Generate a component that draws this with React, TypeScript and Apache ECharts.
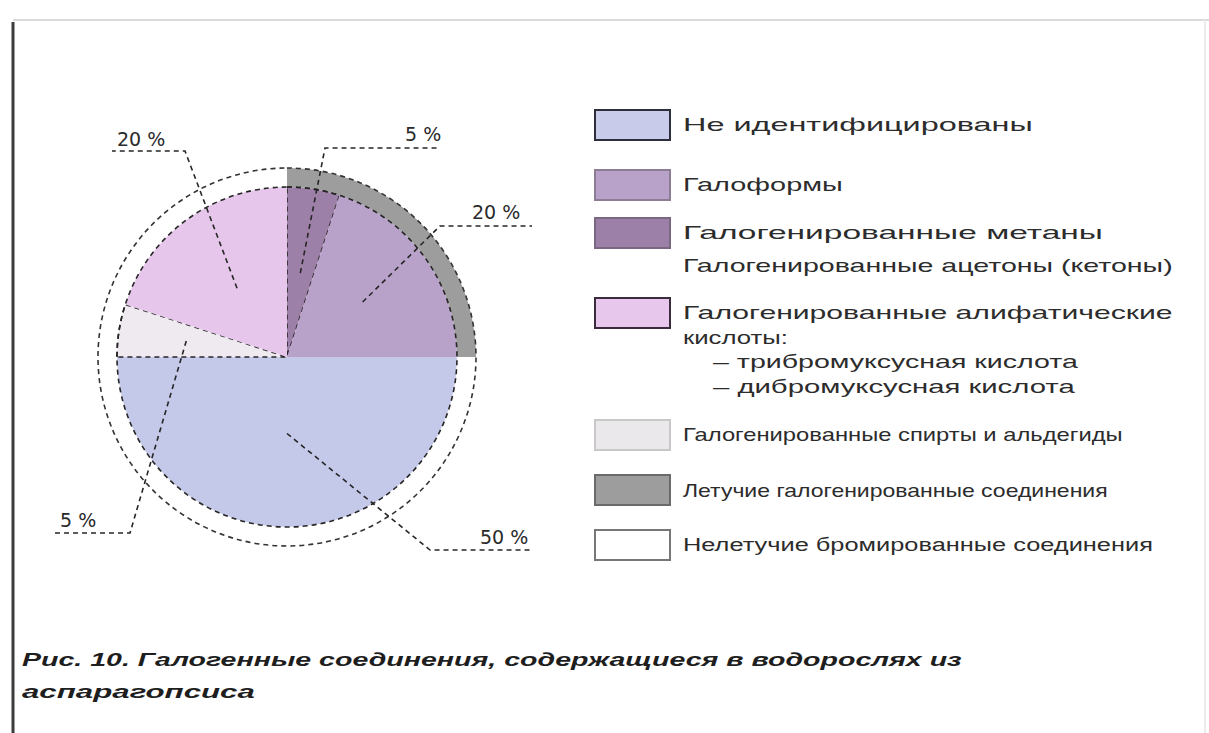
import React, { useEffect, useRef } from "react";
import * as echarts from "echarts";

// ---------- data ----------
const sliceNames = [
  "Галогенированные метаны",
  "Галоформы",
  "Не идентифицированы",
  "Галогенированные спирты и альдегиды",
  "Галогенированные алифатические кислоты",
];
const sliceValues = [5, 20, 50, 5, 20];
const sliceColors = ["#9d80a8", "#b9a2ca", "#c4c8e9", "#efeaf0", "#e6c7eb"];

const ringNames = ["Летучие галогенированные соединения", "Нелетучие бромированные соединения"];
const ringValues = [25, 75];
const ringColors = ["#9d9d9d", "#ffffff"];

const legendMain: string[][] = [
  ["Не идентифицированы"],
  ["Галоформы"],
  ["Галогенированные метаны", "Галогенированные ацетоны (кетоны)"],
  ["Галогенированные алифатические", "кислоты:"],
  ["Галогенированные спирты и альдегиды"],
  ["Летучие галогенированные соединения"],
  ["Нелетучие бромированные соединения"],
];
const legendSub: string[][] = [[], [], [], ["– трибромуксусная кислота", "– дибромуксусная кислота"], [], [], []];
const legendColors = ["#c8cbe9", "#b9a2ca", "#9d80a8", "#e7c8ec", "#ebe8eb", "#9d9d9d", "#ffffff"];
const legendStroke = ["#2e2e3a", "#8c7c94", "#7a6782", "#3a2c3c", "#c8c8c8", "#6a6a6a", "#777777"];

const captionLines = [
  "Рис. 10. Галогенные соединения, содержащиеся в водорослях из",
  "аспарагопсиса",
];

// ---------- layout (not data) ----------
const PIE_CENTER = [287, 357];
const PIE_R = 170;
const RING_R = 189;
// label leader geometry: anchor radius fraction, bend point, text left/bottom, line end x
const anchorFrac = [0.5, 0.55, 0.45, 0.6, 0.5];
const bendPt = [[325, 148], [440, 226], [430, 550], [130, 533], [185, 151]];
const textPos = [[405, 143], [472, 221], [480, 546], [60, 529], [117, 148]];
const lineEndX = [440, 532, 532, 55, 112];

const LEG_X = 595;
const LEG_W = 75;
const LEG_H = 30;
const legTop = [110, 170, 218, 298, 420, 475, 530];
const legLineH = [30, 30, 33, 24.5, 30, 30, 30];
const TEXT_X = 683;
const FONT = "18px 'Liberation Sans', Arial, sans-serif";
const mainWidths = [[350], [160], [420, 490], [490, 105], [440], [425], [470]];
const subWidths = [[], [], [], [365, 362], [], [], []];
const CAP_FONT = "italic bold 18px 'Liberation Sans', Arial, sans-serif";
const capWidths = [940, 233];

function measure(text: string, font: string) {
  const c = document.createElement("canvas").getContext("2d")!;
  c.font = font;
  return c.measureText(text).width;
}

export default function App() {
  const ref = useRef<HTMLDivElement>(null);
  useEffect(() => {
    if (!ref.current) return;
    const chart = echarts.init(ref.current, null, { renderer: "svg" });

    const graphics: any[] = [];
    graphics.push(
      { type: "line", shape: { x1: 13, y1: 22, x2: 13, y2: 733 }, style: { stroke: "#3c3c3c", lineWidth: 3 } },
      { type: "line", shape: { x1: 13, y1: 20, x2: 1209, y2: 20 }, style: { stroke: "#dadada", lineWidth: 2 } },
      { type: "line", shape: { x1: 1205, y1: 20, x2: 1205, y2: 733 }, style: { stroke: "#ececec", lineWidth: 2 } }
    );
    const addText = (t: string, x: number, y: number, w: number, font: string, fill: string) => {
      graphics.push({
        type: "text",
        x,
        y,
        scaleX: w / measure(t, font),
        style: { text: t, font, fill, verticalAlign: "middle" },
      });
    };
    legendMain.forEach((lines, i) => {
      graphics.push({
        type: "rect",
        shape: { x: LEG_X, y: legTop[i], width: LEG_W, height: LEG_H },
        style: { fill: legendColors[i], stroke: legendStroke[i], lineWidth: 2 },
      });
      const lh = legLineH[i];
      lines.forEach((t, j) => addText(t, TEXT_X, legTop[i] + LEG_H / 2 + j * lh, mainWidths[i][j], FONT, "#2c2c2c"));
      legendSub[i].forEach((t, j) =>
        addText(t, TEXT_X + 30, legTop[i] + LEG_H / 2 + (lines.length + j) * lh, subWidths[i][j], FONT, "#2c2c2c")
      );
    });
    captionLines.forEach((t, j) => addText(t, 22, 660 + j * 32, capWidths[j], CAP_FONT, "#1e1e1e"));

    const dashed = { type: [5, 4] as any, color: "#262626", width: 1.6 };

    // mid angles of slices (clockwise from 12 o'clock) computed from the data
    const total = sliceValues.reduce((a, b) => a + b, 0);
    const mids: number[] = [];
    let acc = 0;
    sliceValues.forEach((v) => {
      mids.push(((acc + v / 2) / total) * Math.PI * 2);
      acc += v;
    });

    const common = {
      type: "pie",
      center: PIE_CENTER,
      radius: [0, PIE_R],
      startAngle: 90,
      clockwise: true,
      silent: true,
      avoidLabelOverlap: false,
    };

    chart.setOption({
      animation: false,
      backgroundColor: "#ffffff",
      series: [
        {
          type: "pie",
          z: 1,
          center: PIE_CENTER,
          radius: [PIE_R, RING_R],
          startAngle: 90,
          clockwise: true,
          silent: true,
          label: { show: false },
          labelLine: { show: false },
          data: ringNames.map((n, i) => ({
            name: n,
            value: ringValues[i],
            itemStyle: { color: ringColors[i], borderWidth: 0 },
          })),
        },
        {
          ...common,
          z: 2,
          label: { show: false },
          labelLine: { show: false },
          data: sliceNames.map((n, i) => ({
            name: n,
            value: sliceValues[i],
            itemStyle: {
              color: sliceColors[i],
              borderWidth: i === 0 || i === 3 ? 1.6 : 0,
              borderColor: "#262626",
              borderType: [5, 4],
            },
          })),
        },
        {
          ...common,
          z: 3,
          radius: [0, PIE_R],
          label: { show: false },
          labelLine: { show: false },
          data: [{ value: 1, name: "outline", itemStyle: { color: "rgba(0,0,0,0)", borderColor: "#262626", borderWidth: 1.6, borderType: [5, 4] } }],
        },
        {
          ...common,
          z: 3,
          radius: [0, RING_R],
          label: { show: false },
          labelLine: { show: false },
          data: [{ value: 1, name: "outer", itemStyle: { color: "rgba(0,0,0,0)", borderColor: "#333", borderWidth: 1.6, borderType: [5, 4] } }],
        },
        {
          // transparent copy of the slices carrying the percentage labels and leader lines on top
          ...common,
          z: 5,
          label: {
            formatter: (p: any) => p.value + " %",
            fontSize: 19,
            fontFamily: "'DejaVu Sans', sans-serif",
            color: "#2a2a2a",
          },
          labelLine: {
            show: true,
            smooth: false,
            minTurnAngle: 0,
            maxSurfaceAngle: 180,
            lineStyle: dashed,
          },
          labelLayout: (p: any) => {
            const i = p.dataIndex;
            const a = mids[i];
            const r = PIE_R * anchorFrac[i];
            const ax = PIE_CENTER[0] + r * Math.sin(a);
            const ay = PIE_CENTER[1] - r * Math.cos(a);
            return {
              x: textPos[i][0],
              y: textPos[i][1],
              align: "left",
              verticalAlign: "bottom",
              labelLinePoints: [[ax, ay], bendPt[i], [lineEndX[i], bendPt[i][1]]],
            };
          },
          data: sliceNames.map((n, i) => ({
            name: n,
            value: sliceValues[i],
            itemStyle: { color: "rgba(0,0,0,0)", borderWidth: 0 },
          })),
        },
      ],
      graphic: graphics,
    });
    return () => chart.dispose();
  }, []);
  return (
    <div
      ref={ref}
      style={{ position: "fixed", left: 0, top: 0, width: 1209, height: 733, background: "#fff" }}
    />
  );
}
